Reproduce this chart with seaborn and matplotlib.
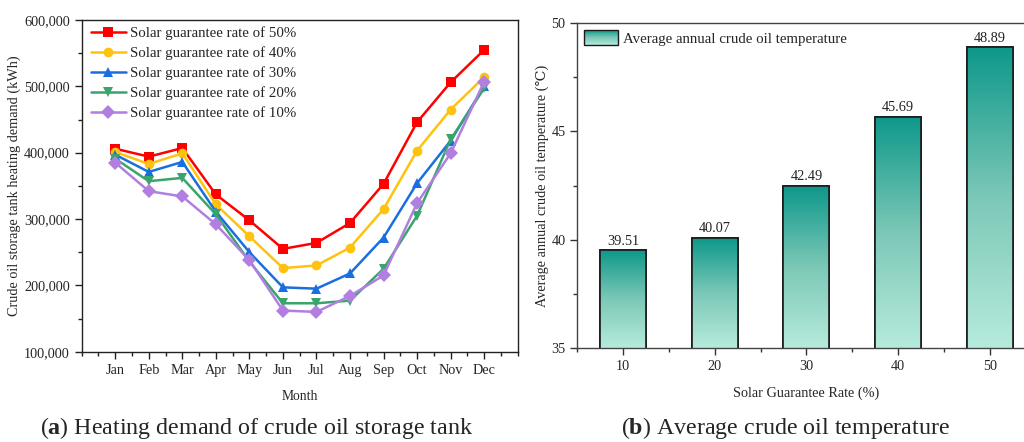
import numpy as np
import pandas as pd
import matplotlib
matplotlib.use("Agg")
import matplotlib.pyplot as plt
import seaborn as sns
from matplotlib.patches import Rectangle
from matplotlib.legend_handler import HandlerBase
from matplotlib.ticker import FuncFormatter, MultipleLocator
from matplotlib.colors import to_rgb, LinearSegmentedColormap

# ---------------- data ----------------
months = ["Jan", "Feb", "Mar", "Apr", "May", "Jun", "Jul", "Aug", "Sep", "Oct", "Nov", "Dec"]
series_names = ["Solar guarantee rate of 50%", "Solar guarantee rate of 40%",
                "Solar guarantee rate of 30%", "Solar guarantee rate of 20%",
                "Solar guarantee rate of 10%"]
rate50 = [406000, 394000, 407000, 337000, 298000, 255000, 264000, 294000, 353000, 446000, 506000, 555000]
rate40 = [401000, 383000, 399000, 322000, 274000, 226000, 230000, 257000, 315000, 403000, 465000, 514000]
rate30 = [397000, 371000, 386000, 311000, 250000, 197000, 195000, 218000, 272000, 354000, 418000, 500000]
rate20 = [391000, 357000, 362000, 307000, 236000, 173000, 173000, 177000, 225000, 305000, 420000, 497000]
rate10 = [385000, 342000, 334000, 292000, 238000, 162000, 160000, 184000, 215000, 324000, 399000, 507000]

rates = [10, 20, 30, 40, 50]
avg_temp = [39.51, 40.07, 42.49, 45.69, 48.89]

# ---------------- style ----------------
sns.set_theme(style="ticks")
plt.rcParams["font.family"] = ["Liberation Serif", "DejaVu Serif"]
plt.rcParams["mathtext.fontset"] = "custom"
plt.rcParams["mathtext.rm"] = "Liberation Serif"
plt.rcParams["mathtext.bf"] = "Liberation Serif:bold"

fig = plt.figure(figsize=(10.24, 4.42), dpi=100)
W, H = 1024, 442

def pos(l, r, t, b):
    return [l / W, 1 - b / H, (r - l) / W, (b - t) / H]

ax1 = fig.add_axes(pos(81.7, 517.7, 20, 351.7))
ax2 = fig.add_axes(pos(577.3, 1035.5, 23.3, 347.7))

# ---------------- left: line chart ----------------
month_idx = list(range(1, 13))
all_vals = [rate50, rate40, rate30, rate20, rate10]
df = pd.DataFrame({
    "month": month_idx * 5,
    "demand": sum(all_vals, []),
    "series": sum([[n] * 12 for n in series_names], []),
})
palette = dict(zip(series_names, ["#FF0000", "#FFC20E", "#1A6FDF", "#3AA56A", "#B07FE0"]))
markers = dict(zip(series_names, ["s", "o", "^", "v", "D"]))
sns.lineplot(data=df, x="month", y="demand", hue="series", style="series",
             hue_order=series_names, style_order=series_names,
             palette=palette, markers=markers, dashes=False, ax=ax1,
             linewidth=1.8, markersize=7, markeredgewidth=0)

ax1.set_xlim(0, 13)
ax1.set_ylim(100000, 600000)
ax1.set_xticks(month_idx)
ax1.set_xticklabels(months)
ax1.xaxis.set_minor_locator(MultipleLocator(0.5))
ax1.yaxis.set_major_locator(MultipleLocator(100000))
ax1.yaxis.set_minor_locator(MultipleLocator(50000))
ax1.yaxis.set_major_formatter(FuncFormatter(lambda v, p: f"{int(v):,}"))
ax1.tick_params(axis="both", which="major", direction="out", length=5, width=1,
                labelsize=10.3, color="#222222")
ax1.tick_params(axis="both", which="minor", direction="out", length=3, width=1, color="#222222")
ax1.set_xlabel("Month", fontsize=9.8, labelpad=10)
ax1.set_ylabel("Crude oil storage tank heating demand (kWh)", fontsize=10.3, labelpad=2)
for s in ax1.spines.values():
    s.set_linewidth(1.0)
    s.set_color("#222222")
leg1 = ax1.legend(loc="upper left", bbox_to_anchor=(0.005, 1.0), frameon=False,
                  fontsize=10.7, handlelength=2.4, handletextpad=0.25,
                  labelspacing=0.41, borderaxespad=0.25, borderpad=0.2)

# ---------------- right: bar chart ----------------
dark = np.array(to_rgb("#0E988A"))
light = np.array(to_rgb("#B6EBDC"))
cmap = LinearSegmentedColormap.from_list("teal", [light, "#7CC8B7", dark])

bdf = pd.DataFrame({"rate": rates, "temp": avg_temp})
sns.barplot(data=bdf, x="rate", y="temp", native_scale=True, width=0.5,
            color="#5FB3A5", edgecolor="#1a1a1a", linewidth=1.2, ax=ax2)

ax2.set_xlim(5, 55)
ax2.set_ylim(35, 50)
grad = np.linspace(1, 0, 256).reshape(-1, 1)
for p in ax2.patches:
    x0, y0 = p.get_x(), p.get_y()
    w, h = p.get_width(), p.get_height()
    y_bottom = 35
    im = ax2.imshow(grad, cmap=cmap, aspect="auto",
                    extent=[x0, x0 + w, y_bottom, y0 + h], zorder=p.get_zorder() + 0.1,
                    interpolation="bilinear")
    im.set_clip_path(p)
    outline = Rectangle((x0, y0), w, h, fill=False, edgecolor="#1a1a1a",
                        linewidth=1.2, zorder=p.get_zorder() + 0.2)
    ax2.add_patch(outline)
    ax2.text(x0 + w / 2, y0 + h + 0.12, f"{y0 + h:.2f}", ha="center", va="bottom",
             fontsize=10.3, color="#222222")
ax2.set_xlim(5, 55)
ax2.set_ylim(35, 50)
ax2.set_xticks(rates)
ax2.set_xticklabels([str(r) for r in rates])
ax2.xaxis.set_minor_locator(MultipleLocator(5))
ax2.set_yticks([35, 40, 45, 50])
ax2.yaxis.set_minor_locator(MultipleLocator(2.5))
ax2.tick_params(axis="both", which="major", direction="out", length=5, width=1,
                labelsize=10.3, color="#333333")
ax2.tick_params(axis="both", which="minor", direction="out", length=3, width=1, color="#333333")
ax2.set_xlabel("Solar Guarantee Rate (%)", fontsize=10.3, labelpad=10)
ax2.set_ylabel("Average annual crude oil temperature (\u2103)", fontsize=10.3, labelpad=2)
for s in ax2.spines.values():
    s.set_linewidth(1.0)
    s.set_color("#444444")


class GradHandler(HandlerBase):
    def create_artists(self, legend, orig_handle, xdescent, ydescent, width, height,
                       fontsize, trans):
        arts = []
        n = 24
        x0, y0 = -xdescent, -ydescent
        for i in range(n):
            frac = (i + 0.5) / n
            c = cmap(frac)
            r = Rectangle((x0, y0 + i * height / n), width, height / n + 0.2,
                          facecolor=c, edgecolor="none", transform=trans)
            arts.append(r)
        arts.append(Rectangle((x0, y0), width, height, fill=False,
                              edgecolor="#1a1a1a", linewidth=1.0, transform=trans))
        return arts


handle = Rectangle((0, 0), 1, 1)
ax2.legend([handle], ["Average annual crude oil temperature"], handler_map={Rectangle: GradHandler()},
           loc="upper left", bbox_to_anchor=(0.0, 1.0), frameon=False, fontsize=10.7,
           handlelength=2.3, handleheight=1.2, handletextpad=0.3, borderaxespad=0.25,
           borderpad=0.2)

# ---------------- captions ----------------
fig.text(257 / W, 1 - 428 / H, r"($\mathbf{a}$) Heating demand of crude oil storage tank",
         ha="center", va="center", fontsize=17.3)
fig.text(785 / W, 1 - 428 / H, r"($\mathbf{b}$) Average crude oil temperature",
         ha="center", va="center", fontsize=17.3)

fig.savefig("out.png", dpi=100)
